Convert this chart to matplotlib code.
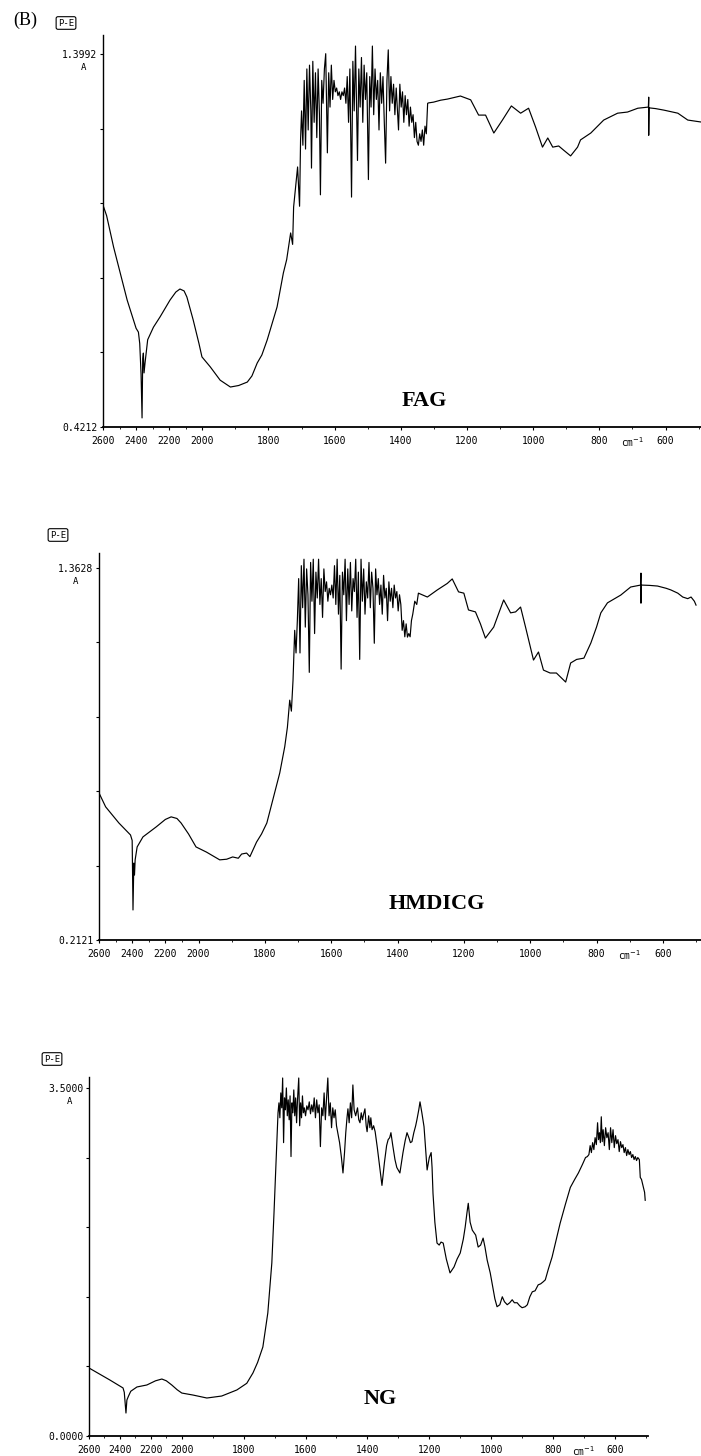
import numpy as np
import matplotlib
matplotlib.use("Agg")
import matplotlib.pyplot as plt
from matplotlib.ticker import FixedLocator

# ---------------- data ----------------
x_ticks = [2600, 2400, 2200, 2000, 1800, 1600, 1400, 1200, 1000, 800, 600]
x_ticklabels = ["2600", "2400", "2200", "2000", "1800", "1600", "1400", "1200", "1000", "800", "600"]
x_minor = [2500, 2300, 2100, 1900, 1700, 1500, 1300, 1100, 900, 700, 500]

fag_yticks = [0.4212, 0.6168, 0.8124, 1.0080, 1.2036, 1.3992]
fag_ylabels = ["0.4212", "", "", "", "", "1.3992"]
hmd_yticks = [0.2121, 0.4422, 0.6724, 0.9025, 1.1327, 1.3628]
hmd_ylabels = ["0.2121", "", "", "", "", "1.3628"]
ng_yticks = [0.0, 0.7, 1.4, 2.1, 2.8, 3.5]
ng_ylabels = ["0.0000", "", "", "", "", "3.5000"]

fag_wn = [2600, 2578, 2536, 2454, 2400, 2386, 2378, 2370, 2364, 2360, 2356, 2352, 2346, 2330, 2295, 2255,
          2195, 2160, 2135, 2110, 2093, 2055, 2020, 2002, 1976, 1946, 1915, 1890, 1864, 1850, 1834, 1820,
          1804, 1790, 1774, 1755, 1745, 1733, 1727, 1724, 1712, 1706, 1703,
          1700, 1696, 1692, 1688, 1684, 1680, 1676, 1672, 1670, 1666,
          1662, 1658, 1654, 1650, 1646, 1643, 1639, 1635, 1631, 1627,
          1622, 1618, 1614, 1610, 1606, 1602, 1598, 1594, 1590, 1586,
          1582, 1578, 1574, 1570, 1566, 1562, 1558, 1554, 1549, 1545,
          1541, 1537, 1531, 1527, 1523, 1519, 1515, 1511, 1507, 1503,
          1498, 1494, 1490, 1486, 1482, 1478, 1474, 1470, 1466, 1462,
          1458, 1454, 1450, 1446, 1442, 1438, 1434, 1430, 1426, 1422,
          1418, 1414, 1410, 1407, 1403, 1399, 1395, 1391, 1387, 1383,
          1379, 1375, 1371, 1367, 1363, 1359, 1355, 1351, 1347, 1343,
          1339, 1335, 1331, 1327, 1323, 1319,
          1316, 1301, 1280, 1259, 1240, 1220, 1189, 1165, 1144, 1119, 1093, 1066, 1038, 1014, 993, 972,
          956, 941, 923, 908, 887, 866, 857, 826, 787, 745, 715, 684, 652, 651, 651, 650, 630, 605, 563,
          533, 494]
fag_abs = [1.003, 0.975, 0.893, 0.754, 0.680, 0.670, 0.640, 0.560, 0.445, 0.600, 0.615, 0.563, 0.589, 0.650,
           0.683, 0.710, 0.754, 0.775, 0.783, 0.778, 0.762, 0.702, 0.640, 0.605, 0.579, 0.544, 0.526, 0.530,
           0.539, 0.555, 0.589, 0.610, 0.649, 0.690, 0.736, 0.825, 0.860, 0.930, 0.900, 0.998, 1.103, 1.000,
           1.174,
           1.25, 1.16, 1.33, 1.15, 1.36, 1.20, 1.37, 1.25, 1.10, 1.38,
           1.22, 1.35, 1.18, 1.36, 1.24, 1.03, 1.33, 1.27, 1.36, 1.40,
           1.14, 1.35, 1.26, 1.37, 1.28, 1.33, 1.30, 1.31, 1.29, 1.30,
           1.28, 1.30, 1.29, 1.31, 1.27, 1.34, 1.22, 1.36, 1.024, 1.38,
           1.25, 1.42, 1.12, 1.36, 1.26, 1.39, 1.22, 1.37, 1.28, 1.35,
           1.07, 1.34, 1.26, 1.42, 1.24, 1.36, 1.28, 1.33, 1.20, 1.35,
           1.27, 1.34, 1.22, 1.113, 1.33, 1.41, 1.25, 1.34, 1.27, 1.32,
           1.24, 1.31, 1.25, 1.20, 1.32, 1.26, 1.30, 1.22, 1.29, 1.24,
           1.28, 1.21, 1.26, 1.22, 1.24, 1.18, 1.22, 1.17, 1.16, 1.19,
           1.17, 1.20, 1.16, 1.21, 1.19, 1.27,
           1.271, 1.273, 1.278, 1.281, 1.285, 1.289, 1.279, 1.239, 1.239, 1.192, 1.226, 1.263, 1.244, 1.257,
           1.208, 1.155, 1.179, 1.155, 1.158, 1.147, 1.132, 1.155, 1.174, 1.192, 1.226, 1.244, 1.247, 1.257,
           1.260, 1.286, 1.186, 1.258, 1.256, 1.252, 1.244, 1.226, 1.221]

hmd_wn = [2600, 2560, 2480, 2410, 2400, 2395, 2390, 2386, 2382, 2370, 2335, 2255, 2200, 2165, 2130, 2105,
          2060, 2015, 1976, 1936, 1915, 1897, 1880, 1870, 1855, 1845, 1825, 1810, 1794, 1776, 1755, 1740,
          1732, 1725, 1720, 1715, 1710, 1706,
          1702, 1698, 1694, 1690, 1686, 1682, 1678, 1674, 1670, 1666, 1662, 1658, 1654, 1650, 1646, 1642,
          1638, 1634, 1630, 1626, 1622, 1618, 1614, 1610, 1606, 1602, 1598, 1594, 1590, 1586, 1582, 1578,
          1574, 1570, 1566, 1562, 1558, 1554, 1550, 1546, 1542, 1538, 1534, 1530, 1526, 1522, 1518, 1514,
          1510, 1506, 1502, 1498, 1494, 1490, 1486, 1482, 1478, 1474, 1470, 1466, 1462, 1458, 1454, 1450,
          1446, 1442, 1438, 1434, 1430, 1426, 1422, 1418, 1414, 1410, 1406, 1402, 1398, 1394, 1390, 1386,
          1382, 1378, 1374, 1370, 1366, 1362, 1358, 1354, 1348, 1342, 1337,
          1310, 1280, 1271, 1250, 1235, 1216, 1200, 1186, 1165, 1150, 1135, 1110, 1080, 1059, 1044, 1029,
          1014, 990, 975, 960, 940, 921, 893, 878, 860, 838, 817, 800, 787, 767, 727, 697, 667, 666, 666,
          665, 640, 616, 590, 576, 555, 540, 525, 515, 505, 500]
hmd_abs = [0.667, 0.624, 0.574, 0.537, 0.520, 0.305, 0.450, 0.413, 0.460, 0.500, 0.531, 0.562, 0.585, 0.593,
           0.588, 0.574, 0.540, 0.500, 0.484, 0.460, 0.462, 0.469, 0.465, 0.478, 0.481, 0.470, 0.515, 0.540,
           0.574, 0.645, 0.729, 0.810, 0.870, 0.954, 0.920, 1.016, 1.170, 1.100,
           1.20, 1.33, 1.10, 1.37, 1.24, 1.39, 1.18, 1.36, 1.28, 1.04, 1.38, 1.26, 1.39, 1.16, 1.35, 1.27,
           1.39, 1.25, 1.33, 1.21, 1.36, 1.29, 1.32, 1.26, 1.30, 1.28, 1.31, 1.27, 1.37, 1.25, 1.39, 1.22,
           1.34, 1.05, 1.35, 1.28, 1.39, 1.20, 1.36, 1.25, 1.38, 1.23, 1.33, 1.29, 1.39, 1.21, 1.35, 1.08,
           1.39, 1.26, 1.36, 1.22, 1.32, 1.27, 1.38, 1.24, 1.35, 1.30, 1.13, 1.36, 1.28, 1.33, 1.25, 1.31,
           1.22, 1.34, 1.27, 1.30, 1.20, 1.32, 1.26, 1.30, 1.24, 1.31, 1.27, 1.29, 1.23, 1.28, 1.25, 1.17,
           1.20, 1.15, 1.19, 1.149, 1.16, 1.15, 1.20, 1.22, 1.26, 1.25, 1.285,
           1.273, 1.295, 1.301, 1.315, 1.329, 1.289, 1.285, 1.233, 1.227, 1.190, 1.146, 1.180, 1.264, 1.224,
           1.227, 1.242, 1.180, 1.078, 1.103, 1.047, 1.038, 1.038, 1.010, 1.069, 1.080, 1.084, 1.131, 1.180,
           1.224, 1.255, 1.279, 1.304, 1.310, 1.347, 1.254, 1.310, 1.309, 1.307, 1.300, 1.295, 1.285, 1.273,
           1.268, 1.273, 1.260, 1.248]

ng_wn = [2600, 2465, 2380, 2372, 2361, 2355, 2345, 2330, 2290, 2226, 2170, 2129, 2100, 2065, 2030, 2000,
         1964, 1919, 1871, 1822, 1790, 1770, 1755, 1738, 1722, 1709, 1702, 1696, 1689,
         1686, 1683, 1680, 1677, 1674, 1671, 1668, 1665, 1662, 1659, 1656, 1653, 1650, 1647, 1644, 1641,
         1638, 1635, 1632, 1629, 1626, 1622, 1619, 1616, 1613, 1610, 1607, 1604, 1600, 1596, 1592, 1588,
         1584, 1580, 1576, 1572, 1568, 1564, 1560, 1556, 1552, 1548, 1544, 1540, 1536, 1532, 1528, 1524,
         1520, 1516, 1512, 1508, 1504, 1500, 1496, 1490, 1484, 1479, 1474, 1470, 1466, 1463, 1459, 1455,
         1451, 1447, 1443, 1438, 1432, 1428, 1424, 1420, 1416, 1412, 1408, 1404, 1401, 1396, 1392, 1389,
         1385, 1380, 1375, 1368, 1360, 1353, 1345, 1338, 1333, 1328, 1324, 1318, 1311, 1305, 1295, 1285,
         1278, 1272, 1266, 1261, 1256, 1250, 1244, 1240, 1234, 1230, 1224, 1217, 1212, 1207, 1200, 1194,
         1191, 1188, 1182, 1175, 1168, 1162, 1155, 1145, 1133, 1120, 1110, 1100, 1090, 1084, 1078, 1074,
         1068, 1061, 1050, 1042, 1034, 1026, 1020, 1013, 1003, 995, 988, 981, 972, 964, 957, 948, 940,
         932, 925, 916, 908, 900, 890, 883, 875, 867, 858, 848, 840, 832, 825, 815, 803, 790, 777, 760,
         744, 730, 718, 705, 695, 689, 684, 680, 676, 672, 668, 664, 660, 656, 653, 650, 647, 644, 641,
         638, 634, 630, 626, 622, 618, 614, 610, 606, 602, 598, 594, 590, 586, 582, 578, 574, 570, 566,
         562, 558, 554, 550, 546, 542, 538, 534, 530, 526, 521, 518, 514, 508, 504, 502]
ng_abs = [0.684, 0.563, 0.483, 0.440, 0.231, 0.362, 0.400, 0.450, 0.493, 0.513, 0.555, 0.573, 0.555, 0.513,
          0.465, 0.432, 0.412, 0.382, 0.402, 0.463, 0.530, 0.634, 0.740, 0.895, 1.237, 1.740, 2.240, 2.705,
          3.250,
          3.35, 3.20, 3.45, 3.30, 3.60, 2.95, 3.40, 3.28, 3.50, 3.22, 3.38, 3.18, 3.42, 2.81, 3.35, 3.25,
          3.48, 3.22, 3.40, 3.15, 3.38, 3.60, 3.12, 3.35, 3.20, 3.42, 3.25, 3.30, 3.22, 3.32, 3.28, 3.36,
          3.24, 3.33, 3.26, 3.40, 3.20, 3.38, 3.25, 3.33, 2.91, 3.30, 3.22, 3.45, 3.18, 3.40, 3.60, 3.22,
          3.35, 3.10, 3.30, 3.20, 3.28, 3.12, 3.05, 2.95, 2.80, 2.645, 2.85, 3.05, 3.20, 3.29, 3.15, 3.35,
          3.20, 3.53, 3.28, 3.22, 3.30, 3.18, 3.15, 3.25, 3.18, 3.24, 3.29, 3.12, 3.06, 3.22, 3.10, 3.20,
          3.08, 3.12, 3.06, 2.90, 2.70, 2.52, 2.75, 2.92, 2.98, 3.00, 3.05, 2.92, 2.78, 2.70, 2.645, 2.85,
          2.97, 3.05, 3.00, 2.95, 2.96, 3.05, 3.12, 3.18, 3.28, 3.36, 3.25, 3.11, 2.90, 2.675, 2.80, 2.85,
          2.70, 2.44, 2.15, 1.94, 1.92, 1.95, 1.94, 1.78, 1.64, 1.70, 1.78, 1.84, 1.98, 2.10, 2.25, 2.34,
          2.15, 2.07, 2.02, 1.90, 1.92, 1.99, 1.90, 1.77, 1.64, 1.50, 1.38, 1.30, 1.32, 1.40, 1.35, 1.32,
          1.34, 1.37, 1.34, 1.34, 1.31, 1.29, 1.30, 1.32, 1.40, 1.45, 1.46, 1.52, 1.53, 1.55, 1.57, 1.68,
          1.80, 1.97, 2.14, 2.33, 2.50, 2.58, 2.645, 2.73, 2.80, 2.81, 2.83, 2.92, 2.85, 2.95, 2.88, 3.00,
          2.93, 3.15, 2.98, 3.05, 2.95, 3.21, 2.96, 3.08, 2.92, 3.10, 3.00, 3.05, 2.88, 3.10, 2.95, 3.08,
          2.90, 3.02, 2.94, 2.98, 2.86, 2.96, 2.90, 2.93, 2.85, 2.90, 2.82, 2.88, 2.83, 2.86, 2.80, 2.83,
          2.78, 2.81, 2.77, 2.80, 2.78, 2.60, 2.58, 2.50, 2.45, 2.37]

sample_names = ["FAG", "HMDICG", "NG"]

# ---------------- wavenumber scale (PE: half scale above 2000) ----------------
# increasing transform; axis is then inverted via xlim (2600 -> ~490)
def fwd(x):
    x = np.asarray(x, dtype=float)
    return np.where(x >= 2000, (x - 2600.0) / 2.0, x - 2300.0)

def inv(u):
    u = np.asarray(u, dtype=float)
    return np.where(u >= -300, 2600.0 + 2.0 * u, u + 2300.0)

W, H = 701, 1456
fig = plt.figure(figsize=(W / 100, H / 100), dpi=100)
fig.patch.set_facecolor("white")
MONO = "DejaVu Sans Mono"
SERIF = ["Liberation Serif", "DejaVu Serif"]

panels = [
    dict(wn=fag_wn, a=fag_abs, box=(103, 35, 701, 427), ylim=(0.4212, 1.449), yt=fag_yticks,
         yl=fag_ylabels, xlim=(2600, 493), name=sample_names[0], name_xy=(424, 401),
         pe_xy=(66, 23), a_xy=(84, 68)),
    dict(wn=hmd_wn, a=hmd_abs, box=(99, 553, 701, 940), ylim=(0.2121, 1.4092), yt=hmd_yticks,
         yl=hmd_ylabels, xlim=(2600, 485), name=sample_names[1], name_xy=(437, 904),
         pe_xy=(58, 535), a_xy=(76, 582)),
    dict(wn=ng_wn, a=ng_abs, box=(89, 1077, 648, 1436), ylim=(0.0, 3.61), yt=ng_yticks,
         yl=ng_ylabels, xlim=(2600, 493), name=sample_names[2], name_xy=(380, 1399),
         pe_xy=(52, 1059), a_xy=(70, 1102)),
]

for p in panels:
    l, t, r, b = p["box"]
    ax = fig.add_axes([l / W, 1 - b / H, (r - l) / W, (b - t) / H])
    ax.set_xscale("function", functions=(fwd, inv))
    ax.plot(p["wn"], p["a"], color="black", lw=0.85)
    ax.set_xlim(*p["xlim"])
    ax.set_ylim(*p["ylim"])
    for s in ("top", "right"):
        ax.spines[s].set_visible(False)
    ax.spines["left"].set_linewidth(1.0)
    ax.spines["bottom"].set_linewidth(1.3)
    ax.xaxis.set_major_locator(FixedLocator(x_ticks))
    ax.set_xticklabels(x_ticklabels)
    ax.xaxis.set_minor_locator(FixedLocator(x_minor))
    ax.yaxis.set_major_locator(FixedLocator(p["yt"]))
    ax.set_yticklabels(p["yl"])
    ax.yaxis.set_minor_locator(FixedLocator([]))
    ax.tick_params(axis="x", which="major", direction="out", length=2.5, width=0.8, pad=4,
                   labelsize=7)
    ax.tick_params(axis="x", which="minor", direction="out", length=1.2, width=0.6)
    ax.tick_params(axis="y", which="major", direction="out", length=2.5, width=0.8, pad=1.5,
                   labelsize=7)
    for lab in ax.get_xticklabels() + ax.get_yticklabels():
        lab.set_fontfamily(MONO)
    ax.annotate("cm$^{-1}$", xy=(700, 0), xycoords=ax.get_xaxis_transform(),
                xytext=(0, -15), textcoords="offset pixels", ha="center", va="center",
                fontsize=7, family=MONO)
    fig.text(p["a_xy"][0] / W, 1 - p["a_xy"][1] / H, "A", fontsize=6.5, family=MONO,
             ha="center", va="center")
    fig.text(p["pe_xy"][0] / W, 1 - p["pe_xy"][1] / H, "P-E", fontsize=6.5, family=MONO,
             ha="center", va="center",
             bbox=dict(boxstyle="round,pad=0.2", fc="white", ec="black", lw=0.8))
    fig.text(p["name_xy"][0] / W, 1 - p["name_xy"][1] / H, p["name"], fontsize=16,
             family=SERIF, fontweight="bold", ha="center", va="center")

fig.text(25 / W, 1 - 20 / H, "(B)", fontsize=13, family=SERIF, ha="center", va="center")

fig.savefig("out.png", dpi=100, facecolor="white")
